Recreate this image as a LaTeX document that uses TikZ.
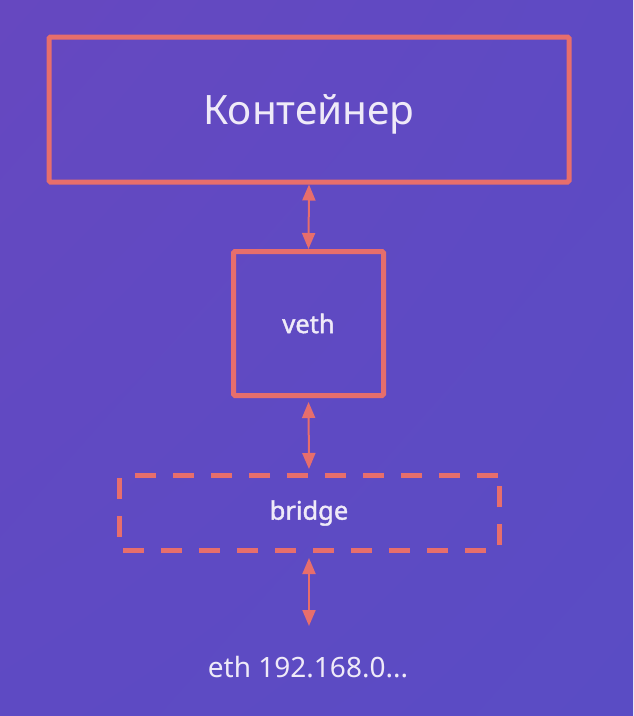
\documentclass[tikz,border=0pt]{standalone}
\usepackage{fontspec}
\setmainfont{Noto Sans}
\newfontfamily\medfont[FakeBold=1.6]{Noto Sans}
\usetikzlibrary{arrows.meta,shadings}
\definecolor{bgA}{HTML}{6648C0}
\definecolor{bgB}{HTML}{5E4AC3}
\definecolor{bgC}{HTML}{5A4CC4}
\definecolor{edge}{HTML}{E76E6C}
\definecolor{txt}{HTML}{EFEAF8}
\tikzset{
  box/.style={draw=edge, line width=5pt, rounded corners=1.5pt, inner sep=0pt, text=txt},
  dbox/.style={box, dash pattern=on 21pt off 17pt},
  arr/.style={draw=edge, line width=2pt, {Triangle[width=13pt,length=16pt]}-{Triangle[width=13pt,length=16pt]}},
  lbl/.style={text=txt, inner sep=0pt}
}
\begin{document}
\begin{tikzpicture}[x=1pt,y=-1pt]
\shade[upper left=bgA, upper right=bgB, lower left=bgB, lower right=bgC] (0,0) rectangle (633,716);
\useasboundingbox (0,0) rectangle (633,716);
\node[box, minimum width=520pt, minimum height=145pt] (cont) at (309,109.5) {};
\node[lbl, font=\fontsize{40.5}{46}\selectfont] (conttext) at (309,114) {Контейнер};
\node[box, minimum width=150pt, minimum height=144pt, font=\medfont\fontsize{25.5}{30}\selectfont] (veth) at (308.5,323.5) {veth};
\node[dbox, minimum width=380pt, minimum height=75pt, font=\medfont\fontsize{25.5}{30}\selectfont] (bridge) at (309,513) {bridge};
\node[lbl, font=\fontsize{28}{32}\selectfont] (eth) at (308,667) {eth 192.168.0...};
\coordinate (ethtop) at (309,626);
\draw[arr] (cont.south) -- (veth.north);
\draw[arr, shorten <=4pt, shorten >=4pt] (veth.south) -- (bridge.north);
\draw[arr, shorten <=5pt] (bridge.south) -- (ethtop);
\end{tikzpicture}
\end{document}
